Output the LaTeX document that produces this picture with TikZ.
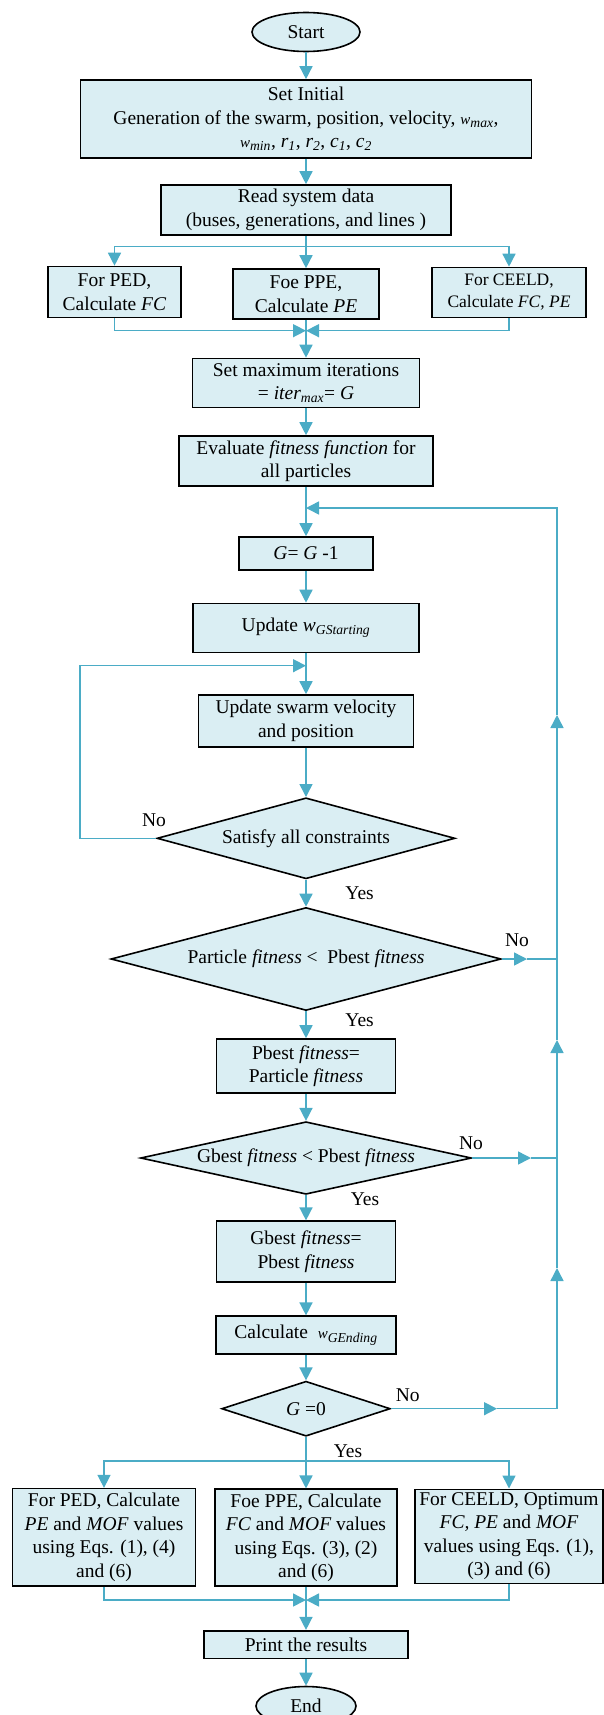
\documentclass[tikz,border=0pt]{standalone}
\usepackage{fontspec}
\setmainfont{Liberation Serif}
\usepackage{tikz}
\usetikzlibrary{shapes.geometric}
\usetikzlibrary{arrows.meta}
\definecolor{flowblue}{HTML}{4BACC6}
\definecolor{boxfill}{HTML}{DAEEF3}
\newcommand{\sw}{{\fontsize{15}{18}\selectfont\itshape w}}
\tikzset{
 box/.style={draw=black,line width=1.6pt,fill=boxfill,rectangle,align=center,inner sep=0pt},
 term/.style={box,ellipse},
 decide/.style={box,diamond},
 line/.style={draw=flowblue,line width=1.5pt},
 arrow/.style={line,-{Triangle[length=13pt,width=13pt]}},
 lbl/.style={inner sep=0pt}
}
\begin{document}
\begin{tikzpicture}[x=1pt,y=-1pt,font=\fontsize{19.5}{23.5}\selectfont]
 	\useasboundingbox (0,0) rectangle (603,1715);
 	\node[term,minimum width=108pt,minimum height=39pt] (start) at (306,32) {Start};
 	\node[box,minimum width=451pt,minimum height=78pt] (init) at (306,119) {Set Initial\\Generation of the swarm, position, velocity, \sw\textsubscript{\textit{max}},\\\sw\textsubscript{\textit{min}}, \textit{r}\textsubscript{\textit{1}}, \textit{r}\textsubscript{\textit{2}}, \textit{c}\textsubscript{\textit{1}}, \textit{c}\textsubscript{\textit{2}}};
 	\node[box,minimum width=290pt,minimum height=50pt] (read) at (306,210) {Read system data\\(buses, generations, and lines )};
 	\node[box,minimum width=133pt,minimum height=51pt] (fc1) at (114.5,292) {For PED,\\Calculate \textit{FC}};
 	\node[box,minimum width=146pt,minimum height=50pt] (pe1) at (306,294) {Foe PPE,\\Calculate \textit{PE}};
 	\node[box,minimum width=154pt,minimum height=50pt,font=\fontsize{17.5}{22}\selectfont] (both1) at (509,292.5) {For CEELD,\\Calculate \textit{FC, PE}};
 	\node[box,minimum width=227pt,minimum height=49pt] (iter) at (306,383) {Set maximum iterations\\= \textit{iter}\textsubscript{\textit{max}}= \textit{G}};
 	\node[box,minimum width=254pt,minimum height=50pt] (eval) at (306,461) {Evaluate \textit{fitness function} for\\all particles};
 	\node[box,minimum width=134pt,minimum height=33pt] (dec) at (306,553.5) {\textit{G}= \textit{G} -1};
 	\node[box,minimum width=226pt,minimum height=49pt] (upw) at (306,628) {Update \textit{w}\textsubscript{\textit{GStarting}}};
 	\node[box,minimum width=215pt,minimum height=52pt] (upv) at (306,721) {Update swarm velocity\\and position};
 	\node[decide,shape aspect=3.7,minimum width=298pt,minimum height=81pt] (sat) at (306,838.3) {Satisfy all constraints};
 	\node[decide,shape aspect=3.8,minimum width=390pt,minimum height=103pt] (part) at (306,959) {Particle \textit{fitness} <\ \ Pbest \textit{fitness}};
 	\node[box,minimum width=179pt,minimum height=54pt] (pbest) at (306,1066) {Pbest \textit{fitness}=\\Particle \textit{fitness}};
 	\node[decide,shape aspect=4.56,minimum width=331pt,minimum height=72.6pt,inner xsep=-4pt] (gcmp) at (306,1158) {Gbest \textit{fitness} < Pbest \textit{fitness}};
 	\node[box,minimum width=179pt,minimum height=61pt] (gbest) at (306,1251.7) {Gbest \textit{fitness}=\\Pbest \textit{fitness}};
 	\node[box,minimum width=179.5pt,minimum height=38pt] (calw) at (306,1335.2) {Calculate \ \sw\textsubscript{\textit{GEnding}}};
 	\node[decide,shape aspect=3.07,minimum width=168.6pt,minimum height=55pt] (gzero) at (306,1408.7) {\textit{G} =0};
 	\node[box,minimum width=182.7pt,minimum height=97.3pt] (res1) at (104,1537.3) {For PED, Calculate\\\textit{PE} and \textit{MOF} values\\using Eqs. (1), (4)\\and (6)};
 	\node[box,minimum width=182pt,minimum height=96.7pt] (res2) at (306,1537.6) {Foe PPE, Calculate\\\textit{FC} and \textit{MOF} values\\using Eqs. (3), (2)\\and (6)};
 	\node[box,minimum width=188pt,minimum height=94pt] (res3) at (509,1536.3) {For CEELD, Optimum\\\textit{FC, PE} and \textit{MOF}\\values using Eqs. (1),\\(3) and (6)};
 	\node[box,minimum width=204pt,minimum height=27.6pt] (print) at (306,1644.5) {Print the results};
 	\node[term,minimum width=100pt,minimum height=39pt] (end) at (306,1706) {End};
 	\node[lbl] (no1) at (154,820) {No};
 	\node[lbl] (yes1) at (359.6,893.3) {Yes};
 	\node[lbl] (no2) at (517,940) {No};
 	\node[lbl] (yes2) at (359.6,1020) {Yes};
 	\node[lbl] (no3) at (471,1143.3) {No};
 	\node[lbl] (yes3) at (365,1199) {Yes};
 	\node[lbl] (no4) at (407.7,1395) {No};
 	\node[lbl] (yes4) at (348,1450.7) {Yes};
 	\coordinate (split1) at (306,246.7);
 	\coordinate (merge1) at (306,330.7);
 	\coordinate (loopin) at (306,508);
 	\coordinate (rtop) at (557,508);
 	\coordinate (noin) at (306,665.7);
 	\coordinate (noleft) at (80,665.7);
 	\coordinate (r1) at (557,959);
 	\coordinate (r2) at (557,1158);
 	\coordinate (r3) at (557,1408.7);
 	\coordinate (u1) at (557,715);
 	\coordinate (u2) at (557,1040);
 	\coordinate (u3) at (557,1268);
 	\coordinate (n1) at (527,959);
 	\coordinate (n2) at (531,1158);
 	\coordinate (n3) at (497,1408.7);
 	\coordinate (split2) at (306,1461);
 	\coordinate (merge2) at (306,1600);
 	\draw[arrow] (start) -- (init);
 	\draw[arrow] (init) -- (read);
 	\draw[line] (read) -- (split1);
 	\draw[arrow] (split1) -| (fc1);
 	\draw[arrow] (split1) -- (pe1);
 	\draw[arrow] (split1) -| (both1);
 	\draw[arrow] (fc1) |- (merge1);
 	\draw[arrow] (both1) |- (merge1);
 	\draw[line] (pe1) -- (merge1);
 	\draw[arrow] (merge1) -- (iter);
 	\draw[arrow] (iter) -- (eval);
 	\draw[line] (eval) -- (loopin);
 	\draw[arrow] (loopin) -- (dec);
 	\draw[arrow] (dec) -- (upw);
 	\draw[line] (upw) -- (noin);
 	\draw[arrow] (noin) -- (upv);
 	\draw[arrow] (upv) -- (sat);
 	\draw[arrow] (sat.west) -- (sat.west -| noleft) -- (noleft) -- (noin);
 	\draw[arrow] (sat) -- (part);
 	\draw[arrow] (part) -- (pbest);
 	\draw[arrow] (pbest) -- (gcmp);
 	\draw[arrow] (gcmp) -- (gbest);
 	\draw[arrow] (gbest) -- (calw);
 	\draw[arrow] (calw) -- (gzero);
 	\draw[arrow] (part) -- (n1);
 	\draw[line] (n1) -- (r1);
 	\draw[arrow] (gcmp) -- (n2);
 	\draw[line] (n2) -- (r2);
 	\draw[arrow] (gzero) -- (n3);
 	\draw[line] (n3) -- (r3);
 	\draw[arrow] (r3) -- (u3);
 	\draw[line] (u3) -- (r2);
 	\draw[arrow] (r2) -- (u2);
 	\draw[line] (u2) -- (r1);
 	\draw[arrow] (r1) -- (u1);
 	\draw[arrow] (u1) -- (rtop) -- (loopin);
 	\draw[line] (gzero) -- (split2);
 	\draw[arrow] (split2) -| (res1);
 	\draw[arrow] (split2) -- (res2);
 	\draw[arrow] (split2) -| (res3);
 	\draw[arrow] (res1) |- (merge2);
 	\draw[arrow] (res3) |- (merge2);
 	\draw[line] (res2) -- (merge2);
 	\draw[arrow] (merge2) -- (print);
 	\draw[arrow] (print) -- (end);
\end{tikzpicture}
\end{document}
